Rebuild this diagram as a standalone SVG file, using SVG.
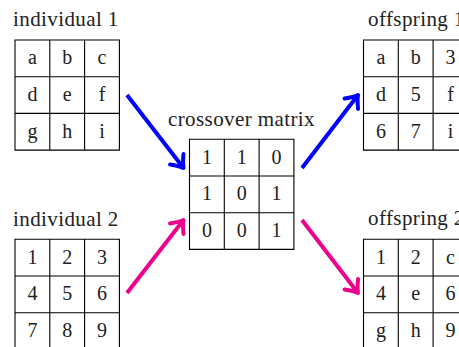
<svg xmlns="http://www.w3.org/2000/svg" xmlns:xlink="http://www.w3.org/1999/xlink" width="459" height="347" viewBox="0 0 459 347">
  <style>
    .grid { fill: none; stroke: #000; stroke-width: 1.1; }
    text { font-family: "Liberation Serif", "Times New Roman", serif; font-size: 20px; fill: #222; }
    .label { font-size: 21px; letter-spacing: 0.4px; }
    .cell { text-anchor: middle; }
    .arrow { fill: none; stroke-width: 4; }
    .blue { stroke: #0000ff; }
    .pink { stroke: #ec008c; }
  </style>
  <defs>
    <!-- 3x3 table, cells 34.8 wide and 36.7 high -->
    <path id="grid" class="grid" d="M0,0H104.4V110.1H0Z M34.8,0V110.1 M69.6,0V110.1 M0,36.7H104.4 M0,73.4H104.4"/>
    <marker id="headBlue" markerUnits="userSpaceOnUse" orient="auto" refX="0" refY="0" markerWidth="30" markerHeight="30" overflow="visible">
      <path d="M-11,-8.5 Q-4,-2 0,0 Q-4,2 -11,8.5" fill="none" stroke="#0000ff" stroke-width="4" stroke-linecap="round" stroke-linejoin="round"/>
    </marker>
    <marker id="headPink" markerUnits="userSpaceOnUse" orient="auto" refX="0" refY="0" markerWidth="30" markerHeight="30" overflow="visible">
      <path d="M-11,-8.5 Q-4,-2 0,0 Q-4,2 -11,8.5" fill="none" stroke="#ec008c" stroke-width="4" stroke-linecap="round" stroke-linejoin="round"/>
    </marker>
  </defs>

  <g id="individual1">
    <text class="label" x="13" y="26">individual 1</text>
    <g transform="translate(15,40)">
      <use xlink:href="#grid"/>
      <text class="cell" x="17.4" y="24.4">a</text>
      <text class="cell" x="52.2" y="24.4">b</text>
      <text class="cell" x="87" y="24.4">c</text>
      <text class="cell" x="17.4" y="61.1">d</text>
      <text class="cell" x="52.2" y="61.1">e</text>
      <text class="cell" x="87" y="61.1">f</text>
      <text class="cell" x="17.4" y="97.8">g</text>
      <text class="cell" x="52.2" y="97.8">h</text>
      <text class="cell" x="87" y="97.8">i</text>
    </g>
  </g>

  <g id="individual2">
    <text class="label" x="13" y="226">individual 2</text>
    <g transform="translate(15,239.3)">
      <use xlink:href="#grid"/>
      <text class="cell" x="17.4" y="24.4">1</text>
      <text class="cell" x="52.2" y="24.4">2</text>
      <text class="cell" x="87" y="24.4">3</text>
      <text class="cell" x="17.4" y="61.1">4</text>
      <text class="cell" x="52.2" y="61.1">5</text>
      <text class="cell" x="87" y="61.1">6</text>
      <text class="cell" x="17.4" y="97.8">7</text>
      <text class="cell" x="52.2" y="97.8">8</text>
      <text class="cell" x="87" y="97.8">9</text>
    </g>
  </g>

  <g id="crossover">
    <text class="label" x="168" y="126">crossover matrix</text>
    <g transform="translate(189.5,139.3)">
      <use xlink:href="#grid"/>
      <text class="cell" x="17.4" y="24.4">1</text>
      <text class="cell" x="52.2" y="24.4">1</text>
      <text class="cell" x="87" y="24.4">0</text>
      <text class="cell" x="17.4" y="61.1">1</text>
      <text class="cell" x="52.2" y="61.1">0</text>
      <text class="cell" x="87" y="61.1">1</text>
      <text class="cell" x="17.4" y="97.8">0</text>
      <text class="cell" x="52.2" y="97.8">0</text>
      <text class="cell" x="87" y="97.8">1</text>
    </g>
  </g>

  <g id="offspring1">
    <text class="label" x="368" y="26">offspring 1</text>
    <g transform="translate(363.5,40)">
      <use xlink:href="#grid"/>
      <text class="cell" x="17.4" y="24.4">a</text>
      <text class="cell" x="52.2" y="24.4">b</text>
      <text class="cell" x="87" y="24.4">3</text>
      <text class="cell" x="17.4" y="61.1">d</text>
      <text class="cell" x="52.2" y="61.1">5</text>
      <text class="cell" x="87" y="61.1">f</text>
      <text class="cell" x="17.4" y="97.8">6</text>
      <text class="cell" x="52.2" y="97.8">7</text>
      <text class="cell" x="87" y="97.8">i</text>
    </g>
  </g>

  <g id="offspring2">
    <text class="label" x="368" y="225">offspring 2</text>
    <g transform="translate(363.5,239.3)">
      <use xlink:href="#grid"/>
      <text class="cell" x="17.4" y="24.4">1</text>
      <text class="cell" x="52.2" y="24.4">2</text>
      <text class="cell" x="87" y="24.4">c</text>
      <text class="cell" x="17.4" y="61.1">4</text>
      <text class="cell" x="52.2" y="61.1">e</text>
      <text class="cell" x="87" y="61.1">6</text>
      <text class="cell" x="17.4" y="97.8">g</text>
      <text class="cell" x="52.2" y="97.8">h</text>
      <text class="cell" x="87" y="97.8">9</text>
    </g>
  </g>

  <g id="connectors">
    <path class="arrow blue" d="M127,95 L183.5,168" marker-end="url(#headBlue)"/>
    <path class="arrow pink" d="M127,293 L183.5,220" marker-end="url(#headPink)"/>
    <path class="arrow blue" d="M302,168 L358,95" marker-end="url(#headBlue)"/>
    <path class="arrow pink" d="M302,220 L358,293" marker-end="url(#headPink)"/>
  </g>
</svg>
